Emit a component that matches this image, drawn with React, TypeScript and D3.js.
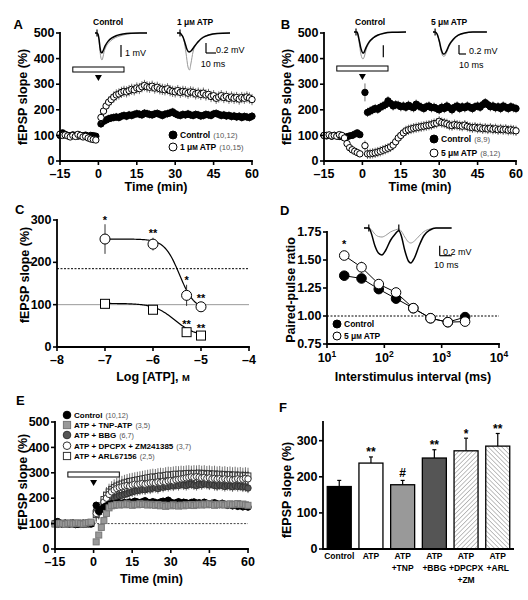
import React from "react";
import * as d3 from "d3";

const FONT = "'Liberation Sans', Arial, Helvetica, sans-serif";

// ---------- shared time grid (min) ----------
const timesPre = d3.range(-15, 0);
const timesPost = d3.range(1, 61);
const times = [...timesPre, ...timesPost];
const timeTicks = [-15, 0, 15, 30, 45, 60];
const slopeTicks = [0, 100, 200, 300, 400, 500];

// ---------- Panel A ----------
const aCtrlPre = [100, 110, 104, 100, 98, 102, 100, 97, 100, 98, 101, 96, 100, 99, 97];
const aCtrlPost = [145, 155, 160, 165, 168, 170, 172, 170, 175, 178, 175, 180, 178, 182, 185, 183, 180, 187, 185, 182, 180, 184, 186, 182, 178, 183, 185, 188, 192, 185, 180, 178, 182, 180, 184, 180, 178, 182, 180, 176, 178, 182, 180, 178, 184, 186, 182, 178, 180, 176, 178, 174, 176, 172, 175, 170, 174, 172, 170, 175];
const aAtpPre = [105, 100, 102, 98, 94, 100, 96, 104, 100, 94, 96, 90, 86, 84, 82];
const aAtpPost = [170, 195, 215, 230, 240, 250, 258, 262, 268, 272, 270, 275, 280, 278, 285, 283, 290, 295, 290, 288, 292, 285, 288, 282, 280, 278, 282, 275, 272, 270, 275, 268, 272, 270, 265, 270, 268, 262, 265, 260, 265, 258, 260, 252, 255, 245, 250, 255, 248, 252, 245, 250, 245, 248, 242, 248, 245, 250, 246, 240];

// ---------- Panel B ----------
const bCtrlPre = [100, 98, 100, 97, 100, 98, 96, 95, 92, 95, 98, 100, 105, 110, 103];
const bCtrlPost = [268, 190, 195, 200, 205, 202, 210, 215, 220, 235, 225, 215, 220, 218, 212, 215, 210, 218, 212, 208, 222, 215, 210, 205, 212, 215, 208, 210, 205, 200, 210, 205, 215, 208, 200, 210, 215, 205, 212, 208, 215, 210, 205, 212, 215, 210, 220, 228, 220, 212, 215, 208, 212, 205, 215, 210, 205, 212, 208, 205];
const bAtpPre = [100, 100, 102, 98, 100, 97, 103, 100, 90, 68, 52, 44, 38, 33, 28];
const bAtpPost = [60, 28, 28, 30, 32, 35, 38, 42, 46, 50, 55, 62, 75, 90, 100, 110, 118, 122, 125, 128, 130, 132, 134, 136, 138, 140, 142, 146, 148, 155, 150, 148, 145, 140, 138, 142, 140, 138, 136, 140, 135, 132, 130, 132, 128, 130, 126, 128, 125, 128, 124, 126, 122, 125, 122, 124, 120, 122, 120, 118];

// ---------- Panel C ----------
const cDose = [-7, -6, -5.3, -5];
const cLtp = [255, 243, 122, 95];
const cLtpSem = [35, 15, 25, 10];
const cLtpStars = ["*", "**", "*", "**"];
const cBase = [102, 88, 35, 27];
const cBaseSem = [3, 3, 5, 4];
const cBaseStars = ["", "", "**", "**"];
const cLtpFit = { top: 255, bottom: 88, logEC50: -5.45, hill: 2.8 };
const cBaseFit = { top: 103, bottom: 25, logEC50: -5.55, hill: 2 };
const cControlLevel = 185;
const cXTicks = [-8, -7, -6, -5, -4];
const cYTicks = [0, 100, 200, 300];

// ---------- Panel D ----------
const dIsi = [20, 40, 80, 160, 320, 640, 1280, 2560];
const dCtrl = [1.36, 1.335, 1.24, 1.155, 1.07, 0.98, 0.945, 0.99];
const dCtrlSem = [0.04, 0.03, 0.02, 0.03, 0.02, 0.015, 0.015, 0.015];
const dAtp = [1.54, 1.435, 1.285, 1.21, 1.07, 0.98, 0.945, 0.95];
const dAtpSem = [0.02, 0.05, 0.02, 0.02, 0.015, 0.01, 0.01, 0.01];
const dYTicks = [0.75, 1.0, 1.25, 1.5, 1.75];
const dXTicks = [10, 100, 1000, 10000];

// ---------- Panel E ----------
const eCtrlPre = [100, 108, 102, 98, 100, 97, 101, 99, 96, 98, 100, 97, 99, 101, 98];
const eCtrlPost = [172, 148, 158, 165, 170, 175, 178, 176, 180, 182, 178, 183, 180, 185, 183, 188, 185, 182, 186, 190, 184, 182, 186, 183, 180, 185, 188, 186, 192, 184, 180, 182, 186, 180, 184, 182, 178, 183, 185, 180, 182, 178, 184, 180, 176, 180, 182, 178, 175, 180, 176, 172, 175, 170, 174, 168, 172, 166, 170, 165];
const eTnpPre = [98, 100, 102, 100, 97, 100, 102, 99, 101, 103, 100, 98, 102, 104, 106];
const eTnpPost = [28, 55, 85, 112, 140, 162, 170, 172, 175, 173, 176, 174, 178, 175, 172, 176, 174, 178, 175, 177, 173, 176, 174, 172, 175, 170, 173, 168, 172, 170, 174, 171, 169, 173, 170, 174, 172, 175, 171, 174, 176, 173, 177, 174, 178, 175, 172, 176, 174, 177, 173, 175, 178, 174, 176, 179, 175, 177, 174, 172];
const eBbgPre = [100, 97, 102, 99, 101, 98, 100, 103, 99, 97, 100, 102, 98, 100, 101];
const eBbgPost = [150, 145, 155, 165, 175, 185, 195, 200, 205, 210, 212, 215, 218, 222, 225, 228, 230, 232, 235, 233, 238, 236, 240, 242, 238, 245, 243, 248, 246, 250, 248, 252, 250, 255, 252, 250, 254, 256, 252, 250, 255, 253, 258, 255, 252, 256, 250, 248, 252, 250, 246, 250, 248, 245, 250, 246, 248, 244, 245, 240];
const eDpcPre = [102, 98, 100, 97, 103, 100, 98, 101, 99, 100, 97, 102, 100, 98, 101];
const eDpcPost = [140, 150, 165, 185, 200, 215, 225, 232, 238, 242, 245, 248, 250, 248, 252, 255, 253, 256, 258, 255, 258, 260, 262, 260, 264, 262, 266, 264, 268, 270, 268, 272, 274, 276, 278, 280, 282, 284, 282, 285, 283, 280, 282, 278, 280, 276, 278, 275, 277, 274, 276, 273, 275, 272, 274, 276, 273, 275, 278, 276];
const eArlPre = [100, 102, 99, 101, 98, 100, 102, 99, 100, 101, 98, 100, 99, 102, 100];
const eArlPost = [135, 148, 170, 195, 212, 225, 235, 242, 248, 252, 256, 260, 263, 266, 268, 270, 272, 274, 276, 278, 280, 282, 284, 283, 286, 288, 287, 290, 292, 291, 293, 295, 294, 296, 295, 297, 298, 296, 298, 297, 299, 296, 298, 295, 297, 294, 296, 293, 295, 292, 294, 291, 293, 290, 292, 289, 291, 288, 290, 288];

// ---------- Panel F ----------
const fLabels = [["Control"], ["ATP"], ["ATP", "+TNP"], ["ATP", "+BBG"], ["ATP", "+DPCPX", "+ZM"], ["ATP", "+ARL"]];
const fMean = [173, 238, 178, 252, 272, 285];
const fSem = [17, 17, 12, 23, 35, 35];
const fAnno = ["", "**", "#", "**", "*", "**"];
const fFill = ["#000", "#fff", "#999", "#555", "url(#hatchUp)", "url(#hatchDown)"];
const fYTicks = [0, 100, 200, 300];

// ---------- inset traces [ms, mV] ----------
const trACtrlBefore = [[0, 0], [2, 0], [3, -0.1], [4, -0.6], [5, -1.5], [6, -2.1], [7, -2.25], [8, -2.0], [9, -1.6], [11, -1.15], [14, -0.8], [18, -0.5], [23, -0.3], [29, -0.15], [36, -0.05], [45, 0], [52, 0]];
const trACtrlAfter = [[0, 0], [2, 0], [3, -0.1], [4, -0.5], [5, -1.2], [6, -1.6], [7, -1.65], [8, -1.5], [10, -1.1], [13, -0.7], [17, -0.4], [22, -0.2], [28, -0.08], [35, -0.02], [45, 0], [52, 0]];
const trAAtpBefore = [[0, 0], [3, 0], [5, -0.05], [7, -0.15], [9, -0.4], [11, -0.68], [12.5, -0.74], [14, -0.6], [16, -0.38], [19, -0.22], [23, -0.12], [28, -0.06], [35, -0.02], [53, 0]];
const trAAtpAfter = [[0, 0], [3, 0], [4, -0.02], [6, -0.08], [8, -0.2], [10, -0.33], [12, -0.38], [14, -0.36], [17, -0.28], [21, -0.18], [26, -0.09], [32, -0.04], [40, -0.01], [53, 0]];
const trBCtrlBefore = [[0, 0], [3, 0], [5, -0.8], [7, -1.9], [9, -2.25], [10.5, -2.0], [12, -1.5], [15, -0.95], [19, -0.55], [24, -0.28], [30, -0.12], [38, -0.03], [52, 0]];
const trBCtrlAfter = [[0, 0], [3, 0], [5, -0.6], [7, -1.4], [9, -1.75], [10, -1.7], [12, -1.3], [15, -0.85], [19, -0.5], [24, -0.25], [30, -0.1], [38, -0.03], [52, 0]];
const trBAtpBefore = [[0, 0], [3, 0], [6, -0.05], [9, -0.22], [12, -0.45], [15, -0.54], [16, -0.54], [19, -0.47], [23, -0.32], [29, -0.18], [36, -0.08], [45, -0.03], [57, 0], [77, 0]];
const trBAtpAfter = [[0, 0], [3, 0], [6, -0.05], [9, -0.2], [12, -0.4], [15, -0.49], [16, -0.49], [19, -0.43], [23, -0.29], [29, -0.16], [36, -0.07], [45, -0.02], [57, 0], [77, 0]];
const trDBig = [[0, 0], [4, 0], [6, -0.1], [9, -0.35], [12, -0.5], [15, -0.54], [18, -0.45], [22, -0.25], [26, -0.12], [29, -0.05], [31, -0.15], [34, -0.45], [37, -0.66], [39, -0.7], [42, -0.6], [46, -0.35], [50, -0.15], [55, -0.04], [60, 0], [73, 0]];
const trDSmall = [[0, 0], [4, 0], [6, -0.03], [9, -0.12], [12, -0.17], [15, -0.18], [18, -0.15], [22, -0.08], [26, -0.04], [29, -0.02], [31, -0.06], [34, -0.18], [37, -0.28], [39, -0.3], [42, -0.26], [46, -0.16], [50, -0.07], [55, -0.02], [60, 0], [73, 0]];

const dash = (t: number) => (t < 0 ? "\u2013" + Math.abs(t) : String(t));

function Marker({ shape, cx, cy, r, fill, stroke, sw = 1 }: any) {
  if (shape === "s")
    return <rect x={cx - r} y={cy - r} width={2 * r} height={2 * r} fill={fill} stroke={stroke} strokeWidth={sw} />;
  return <circle cx={cx} cy={cy} r={r} fill={fill} stroke={stroke} strokeWidth={sw} />;
}

function Series({ t, v, e, x, y, shape, fill, stroke, r, ecol = "#333", ew = 0.7 }: any) {
  return (
    <g>
      {v.map((val: number, i: number) => (
        <line key={"e" + i} x1={x(t[i])} x2={x(t[i])} y1={y(val - e[i])} y2={y(val + e[i])} stroke={ecol} strokeWidth={ew} />
      ))}
      {v.map((val: number, i: number) => (
        <Marker key={"m" + i} shape={shape} cx={x(t[i])} cy={y(val)} r={r} fill={fill} stroke={stroke} />
      ))}
    </g>
  );
}

function LeftAxis({ scale, ticks, x, fmt, top, fs = 12.5 }: any) {
  const d = scale.domain();
  const yb = scale(d[0]);
  const yt = scale(top !== undefined ? top : d[1]);
  return (
    <g>
      <line x1={x} x2={x} y1={yb} y2={yt} stroke="#000" strokeWidth={1.8} strokeLinecap="square" />
      {ticks.map((t: number) => (
        <g key={t}>
          <line x1={x - 4} x2={x} y1={scale(t)} y2={scale(t)} stroke="#000" strokeWidth={1.6} />
          <text x={x - 5.5} y={scale(t)} dy="0.33em" textAnchor="end" fontSize={fs} fontWeight="bold">
            {fmt(t)}
          </text>
        </g>
      ))}
    </g>
  );
}

function BottomAxis({ scale, ticks, y, fmt, fs = 12.5 }: any) {
  const r = scale.range();
  return (
    <g>
      <line x1={r[0]} x2={r[1]} y1={y} y2={y} stroke="#000" strokeWidth={1.8} strokeLinecap="square" />
      {ticks.map((t: number) => (
        <g key={t}>
          <line x1={scale(t)} x2={scale(t)} y1={y} y2={y + 4} stroke="#000" strokeWidth={1.6} />
          <text x={scale(t)} y={y + 17} textAnchor="middle" fontSize={fs} fontWeight="bold">
            {fmt(t)}
          </text>
        </g>
      ))}
    </g>
  );
}

function YTitle({ x, y, children, fs = 12.5 }: any) {
  return (
    <text transform={`translate(${x},${y}) rotate(-90)`} textAnchor="middle" fontSize={fs} fontWeight="bold">
      {children}
    </text>
  );
}

function Trace({ data, x, y, stroke, sw }: any) {
  const line = d3
    .line<number[]>()
    .x((d) => x(d[0]))
    .y((d) => y(d[1]))
    .curve(d3.curveMonotoneX);
  return <path d={line(data) || ""} fill="none" stroke={stroke} strokeWidth={sw} />;
}

function Inset({ x0, y0, pxMs, pxMv, before, after, artifacts, bar }: any) {
  const x = d3.scaleLinear().domain([0, 1]).range([x0, x0 + pxMs]);
  const y = d3.scaleLinear().domain([0, 1]).range([y0, y0 - pxMv]);
  const hv = bar ? y(0) - y(bar.mv) : 0;
  return (
    <g>
      <Trace data={before} x={x} y={y} stroke="#999" sw={1} />
      <Trace data={after} x={x} y={y} stroke="#000" sw={1.5} />
      {artifacts.map((a: number, i: number) => (
        <line key={i} x1={x(a)} x2={x(a)} y1={y0 - 3.5} y2={y0 + 3.5} stroke="#000" strokeWidth={1.2} />
      ))}
      {bar && (
        <g>
          <line x1={bar.x} x2={bar.x} y1={bar.y} y2={bar.y - hv} stroke="#000" strokeWidth={1.2} />
          {bar.ms ? (
            <line x1={bar.x} x2={bar.x + (x(bar.ms) - x(0))} y1={bar.y} y2={bar.y} stroke="#000" strokeWidth={1.2} />
          ) : null}
        </g>
      )}
    </g>
  );
}

function LegendRow({ x, y, shape, fill, stroke, label, n, r = 4, fs = 8.5 }: any) {
  return (
    <g>
      <Marker shape={shape} cx={x} cy={y} r={r} fill={fill} stroke={stroke} />
      <text x={x + 7} y={y + 3.2} fontSize={fs} fontWeight="bold">
        {label}
        {n ? (
          <tspan fontWeight="normal" fontSize={fs * 0.9} fill="#555" dx={3}>
            {n}
          </tspan>
        ) : null}
      </text>
    </g>
  );
}

const uM = (pre: string, post: string) => (
  <>
    {pre}μ<tspan fontSize="0.78em">M</tspan>
    {post}
  </>
);

function DrugBar({ x, top }: any) {
  const x0 = x(-10), x1 = x(10), xc = x(0);
  return (
    <g>
      <rect x={x0} y={top} width={x1 - x0} height={5} fill="#fff" stroke="#000" strokeWidth={1} />
      <path d={`M${xc - 3.5},${top + 8} L${xc + 3.5},${top + 8} L${xc},${top + 14} Z`} fill="#000" />
    </g>
  );
}

export default function App() {
  const xA = d3.scaleLinear().domain([-15, 60]).range([60, 252]);
  const yA = d3.scaleLinear().domain([0, 500]).range([161, 33]);
  const xB = d3.scaleLinear().domain([-15, 60]).range([324, 516]);
  const yB = d3.scaleLinear().domain([0, 500]).range([161, 33]);
  const xC = d3.scaleLinear().domain([-8, -4]).range([57, 249]);
  const yC = d3.scaleLinear().domain([0, 300]).range([347, 220]);
  const xD = d3.scaleLog().domain([10, 10000]).range([327, 499]);
  const yD = d3.scaleLinear().domain([0.75, 1.75]).range([344, 232]);
  const xE = d3.scaleLinear().domain([-15, 60]).range([55, 248]);
  const yE = d3.scaleLinear().domain([0, 500]).range([549, 422]);
  const yF = d3.scaleLinear().domain([0, 300]).range([549, 440.7]);
  const xF = d3
    .scaleBand<number>()
    .domain(d3.range(fMean.length))
    .range([323, 514])
    .paddingInner(0.243)
    .paddingOuter(0.134);

  const semA1 = times.map((t) => (t < 0 ? 6 : 16));
  const semA2 = times.map((t) => (t < 0 ? 6 : 22));
  const semB1 = times.map((t) => (t < 0 ? 7 : t === 1 ? 35 : 18));
  const semB2 = times.map((t) => (t < 0 ? 8 : 20));
  const semE1 = times.map((t) => (t < 0 ? 6 : 15));
  const semE2 = times.map((t) => (t < 0 ? 5 : 10));
  const semE3 = times.map((t) => (t < 0 ? 6 : 20));
  const semE4 = times.map((t) => (t < 0 ? 6 : 30));
  const semE5 = times.map((t) => (t < 0 ? 6 : 32));

  const hill = (p: any) => (lx: number) => p.bottom + (p.top - p.bottom) / (1 + Math.pow(10, (lx - p.logEC50) * p.hill));
  const fitX = d3.range(-7, -4.99, 0.02);
  const fitLine = (p: any) =>
    d3
      .line<number>()
      .x((d) => xC(d))
      .y((d) => yC(hill(p)(d)))(fitX) || "";

  const dPath = (vals: number[]) =>
    d3
      .line<number>()
      .x((_, i) => xD(dIsi[i]))
      .y((d) => yD(d))(vals) || "";

  const fBase = yF(0);
  const fc = (i: number) => (xF(i) || 0) + xF.bandwidth() / 2;

  return (
    <svg width={528} height={600} style={{ position: "absolute", left: 0, top: 0, background: "#fff" }} fontFamily={FONT}>
      <defs>
        <pattern id="hatchUp" width={3.2} height={3.2} patternUnits="userSpaceOnUse" patternTransform="rotate(45)">
          <rect width={3.2} height={3.2} fill="#fff" />
          <line x1={0} y1={0} x2={0} y2={3.2} stroke="#8c8c8c" strokeWidth={1.1} />
        </pattern>
        <pattern id="hatchDown" width={3.2} height={3.2} patternUnits="userSpaceOnUse" patternTransform="rotate(-45)">
          <rect width={3.2} height={3.2} fill="#fff" />
          <line x1={0} y1={0} x2={0} y2={3.2} stroke="#8c8c8c" strokeWidth={1.1} />
        </pattern>
      </defs>

      {/* ================= Panel A ================= */}
      <text x={13.5} y={28.5} fontSize={13} fontWeight="bold">A</text>
      <text x={93} y={25} fontSize={8.5} fontWeight="bold">Control</text>
      <text x={177} y={25} fontSize={8.5} fontWeight="bold">{uM("1 ", " ATP")}</text>
      <Inset x0={95} y0={33} pxMs={1} pxMv={12} before={trACtrlBefore} after={trACtrlAfter} artifacts={[2]} bar={{ x: 121, y: 57, mv: 1 }} />
      <text x={125} y={56} fontSize={9}>1 mV</text>
      <Inset x0={177} y0={33} pxMs={1} pxMv={50} before={trAAtpBefore} after={trAAtpAfter} artifacts={[3]} bar={{ x: 206, y: 53, mv: 0.2, ms: 10 }} />
      <text x={216} y={53} fontSize={9}>0.2 mV</text>
      <text x={213} y={67} fontSize={9} textAnchor="middle">10 ms</text>
      <DrugBar x={xA} top={67} />
      <Series t={times} v={[...aCtrlPre, ...aCtrlPost]} e={semA1} x={xA} y={yA} shape="c" fill="#000" stroke="#000" r={3.2} />
      <Series t={times} v={[...aAtpPre, ...aAtpPost]} e={semA2} x={xA} y={yA} shape="c" fill="#fff" stroke="#000" r={3.2} />
      <LeftAxis scale={yA} ticks={slopeTicks} x={xA(-15)} fmt={String} />
      <BottomAxis scale={xA} ticks={timeTicks} y={yA(0)} fmt={dash} />
      <YTitle x={27} y={97}>fEPSP slope (%)</YTitle>
      <text x={156} y={191} textAnchor="middle" fontSize={12.5} fontWeight="bold">Time (min)</text>
      <LegendRow x={173} y={135} shape="c" fill="#000" stroke="#000" label="Control" n="(10,12)" />
      <LegendRow x={173} y={147} shape="c" fill="#fff" stroke="#000" label={uM("1 ", " ATP")} n="(10,15)" />

      {/* ================= Panel B ================= */}
      <text x={280.7} y={28.5} fontSize={13} fontWeight="bold">B</text>
      <text x={355} y={25} fontSize={8.5} fontWeight="bold">Control</text>
      <text x={431} y={25} fontSize={8.5} fontWeight="bold">{uM("5 ", " ATP")}</text>
      <Inset x0={354} y0={32} pxMs={1} pxMv={12} before={trBCtrlBefore} after={trBCtrlAfter} artifacts={[2]} bar={{ x: 383.3, y: 57.3, mv: 1 }} />
      <Inset x0={433} y0={32} pxMs={0.7} pxMv={45} before={trBAtpBefore} after={trBAtpAfter} artifacts={[3]} bar={{ x: 459, y: 54, mv: 0.2, ms: 10 }} />
      <text x={469} y={54} fontSize={9}>0.2 mV</text>
      <text x={459} y={68} fontSize={9}>10 ms</text>
      <DrugBar x={xB} top={66} />
      <Series t={times} v={[...bCtrlPre, ...bCtrlPost]} e={semB1} x={xB} y={yB} shape="c" fill="#000" stroke="#000" r={3.2} />
      <Series t={times} v={[...bAtpPre, ...bAtpPost]} e={semB2} x={xB} y={yB} shape="c" fill="#fff" stroke="#000" r={3.2} />
      <LeftAxis scale={yB} ticks={slopeTicks} x={xB(-15)} fmt={String} />
      <BottomAxis scale={xB} ticks={timeTicks} y={yB(0)} fmt={dash} />
      <YTitle x={291} y={97}>fEPSP slope (%)</YTitle>
      <text x={420} y={191} textAnchor="middle" fontSize={12.5} fontWeight="bold">Time (min)</text>
      <LegendRow x={434} y={139} shape="c" fill="#000" stroke="#000" label="Control" n="(8,9)" />
      <LegendRow x={434} y={153} shape="c" fill="#fff" stroke="#000" label={uM("5 ", " ATP")} n="(8,12)" />

      {/* ================= Panel C ================= */}
      <text x={15} y={214} fontSize={13} fontWeight="bold">C</text>
      <line x1={xC(-8)} x2={xC(-4)} y1={yC(100)} y2={yC(100)} stroke="#999" strokeWidth={1} />
      <line x1={xC(-8)} x2={xC(-4)} y1={yC(cControlLevel)} y2={yC(cControlLevel)} stroke="#000" strokeWidth={1} strokeDasharray="2,1.5" />
      <path d={fitLine(cLtpFit)} fill="none" stroke="#000" strokeWidth={1.2} />
      <path d={fitLine(cBaseFit)} fill="none" stroke="#000" strokeWidth={1.2} />
      <Series t={cDose} v={cLtp} e={cLtpSem} x={xC} y={yC} shape="c" fill="#fff" stroke="#000" r={5} ew={1} />
      <Series t={cDose} v={cBase} e={cBaseSem} x={xC} y={yC} shape="s" fill="#fff" stroke="#000" r={4.5} ew={1} />
      {cDose.map((d, i) => (
        <text key={"cs" + i} x={xC(d)} y={yC(cLtp[i] + cLtpSem[i]) - 0.5} textAnchor="middle" fontSize={11} fontWeight="bold">{cLtpStars[i]}</text>
      ))}
      {cDose.map((d, i) => (
        <text key={"cb" + i} x={xC(d)} y={yC(cBase[i] + cBaseSem[i]) - 2} textAnchor="middle" fontSize={11} fontWeight="bold">{cBaseStars[i]}</text>
      ))}
      <LeftAxis scale={yC} ticks={cYTicks} x={xC(-8)} fmt={String} />
      <BottomAxis scale={xC} ticks={cXTicks} y={yC(0)} fmt={dash} />
      <YTitle x={29} y={275}>fEPSP slope (%)</YTitle>
      <text x={153} y={381} textAnchor="middle" fontSize={12.5} fontWeight="bold">
        Log [ATP], <tspan fontSize="0.75em">M</tspan>
      </text>

      {/* ================= Panel D ================= */}
      <text x={280} y={215} fontSize={13} fontWeight="bold">D</text>
      <Inset x0={364} y0={228} pxMs={1.2} pxMv={50} before={trDSmall} after={trDBig} artifacts={[4, 29]} bar={{ x: 439.7, y: 255.7, mv: 0.2, ms: 10 }} />
      <text x={443} y={255} fontSize={9}>0.2 mV</text>
      <text x={434} y={268} fontSize={9}>10 ms</text>
      <line x1={xD(10)} x2={xD(10000)} y1={yD(1)} y2={yD(1)} stroke="#000" strokeWidth={1} strokeDasharray="2,1.5" />
      <path d={dPath(dCtrl)} fill="none" stroke="#000" strokeWidth={1} />
      <path d={dPath(dAtp)} fill="none" stroke="#000" strokeWidth={1} />
      <Series t={dIsi} v={dCtrl} e={dCtrlSem} x={xD} y={yD} shape="c" fill="#000" stroke="#000" r={4.8} ew={1} />
      <Series t={dIsi} v={dAtp} e={dAtpSem} x={xD} y={yD} shape="c" fill="#fff" stroke="#000" r={4.8} ew={1} />
      <text x={xD(dIsi[0])} y={yD(dAtp[0]) - 8} textAnchor="middle" fontSize={11} fontWeight="bold">*</text>
      <LeftAxis scale={yD} ticks={dYTicks} x={xD(10)} fmt={d3.format(".2f")} />
      <g>
        <line x1={xD(10)} x2={xD(10000)} y1={yD(0.75)} y2={yD(0.75)} stroke="#000" strokeWidth={1.8} strokeLinecap="square" />
        {dXTicks.map((t) => (
          <g key={t}>
            <line x1={xD(t)} x2={xD(t)} y1={yD(0.75)} y2={yD(0.75) + 4} stroke="#000" strokeWidth={1.6} />
            <text x={xD(t)} y={yD(0.75) + 18} textAnchor="middle" fontSize={12.5} fontWeight="bold">
              10<tspan fontSize={8.5} dy={-5}>{Math.round(Math.log10(t))}</tspan>
            </text>
          </g>
        ))}
      </g>
      <YTitle x={295} y={290}>Paired-pulse ratio</YTitle>
      <text x={413} y={381} textAnchor="middle" fontSize={12.5} fontWeight="bold">Interstimulus interval (ms)</text>
      <LegendRow x={337} y={324} shape="c" fill="#000" stroke="#000" label="Control" r={4} fs={8.5} />
      <LegendRow x={337} y={336} shape="c" fill="#fff" stroke="#000" label={uM("5 ", " ATP")} r={4} fs={8.5} />

      {/* ================= Panel E ================= */}
      <text x={16} y={405} fontSize={13} fontWeight="bold">E</text>
      <line x1={xE(0)} x2={xE(60)} y1={yE(100)} y2={yE(100)} stroke="#444" strokeWidth={1} strokeDasharray="2,1.5" />
      <DrugBar x={xE} top={472} />
      <Series t={times} v={[...eBbgPre, ...eBbgPost]} e={semE3} x={xE} y={yE} shape="c" fill="#555" stroke="#333" r={3.2} />
      <Series t={times} v={[...eArlPre, ...eArlPost]} e={semE5} x={xE} y={yE} shape="s" fill="#fff" stroke="#333" r={2.9} />
      <Series t={times} v={[...eDpcPre, ...eDpcPost]} e={semE4} x={xE} y={yE} shape="c" fill="#fff" stroke="#333" r={3.2} />
      <Series t={times} v={[...eCtrlPre, ...eCtrlPost]} e={semE1} x={xE} y={yE} shape="c" fill="#000" stroke="#000" r={3.2} />
      <Series t={times} v={[...eTnpPre, ...eTnpPost]} e={semE2} x={xE} y={yE} shape="s" fill="#999" stroke="#777" r={3} />
      <LeftAxis scale={yE} ticks={slopeTicks} x={xE(-15)} fmt={String} />
      <BottomAxis scale={xE} ticks={timeTicks} y={yE(0)} fmt={dash} />
      <YTitle x={27} y={482}>fEPSP slope (%)</YTitle>
      <text x={151.5} y={583} textAnchor="middle" fontSize={12.5} fontWeight="bold">Time (min)</text>
      <LegendRow x={67} y={415} shape="c" fill="#000" stroke="#000" label="Control" n="(10,12)" r={3.8} fs={8} />
      <LegendRow x={67} y={425} shape="s" fill="#999" stroke="#777" label="ATP + TNP-ATP" n="(3,5)" r={3.6} fs={8} />
      <LegendRow x={67} y={435} shape="c" fill="#555" stroke="#333" label="ATP + BBG" n="(6,7)" r={3.8} fs={8} />
      <LegendRow x={67} y={445.7} shape="c" fill="#fff" stroke="#333" label="ATP + DPCPX + ZM241385" n="(3,7)" r={3.8} fs={8} />
      <LegendRow x={67} y={456} shape="s" fill="#fff" stroke="#333" label="ATP + ARL67156" n="(2,5)" r={3.6} fs={8} />

      {/* ================= Panel F ================= */}
      <text x={279} y={412} fontSize={13} fontWeight="bold">F</text>
      {fMean.map((m, i) => (
        <g key={"fb" + i}>
          <line x1={fc(i)} x2={fc(i)} y1={yF(m)} y2={yF(m + fSem[i])} stroke="#000" strokeWidth={1.2} />
          <line x1={fc(i) - 2} x2={fc(i) + 2} y1={yF(m + fSem[i])} y2={yF(m + fSem[i])} stroke="#000" strokeWidth={1.2} />
          <rect x={xF(i)} y={yF(m)} width={xF.bandwidth()} height={fBase - yF(m)} fill={fFill[i]} stroke="#000" strokeWidth={1.3} />
          <text x={fc(i)} y={yF(m + fSem[i]) - (fAnno[i] === "#" ? 3 : 0.5)} textAnchor="middle" fontSize={12} fontWeight="bold">
            {fAnno[i]}
          </text>
          {fLabels[i].map((l, j) => (
            <text key={j} x={fc(i)} y={559 + j * 12} textAnchor="middle" fontSize={8.5} fontWeight="bold">
              {l}
            </text>
          ))}
        </g>
      ))}
      <LeftAxis scale={yF} ticks={fYTicks} x={323} fmt={String} top={352} />
      <line x1={323} x2={514} y1={fBase} y2={fBase} stroke="#000" strokeWidth={1.8} />
      <YTitle x={291} y={490}>fEPSP slope (%)</YTitle>
    </svg>
  );
}
